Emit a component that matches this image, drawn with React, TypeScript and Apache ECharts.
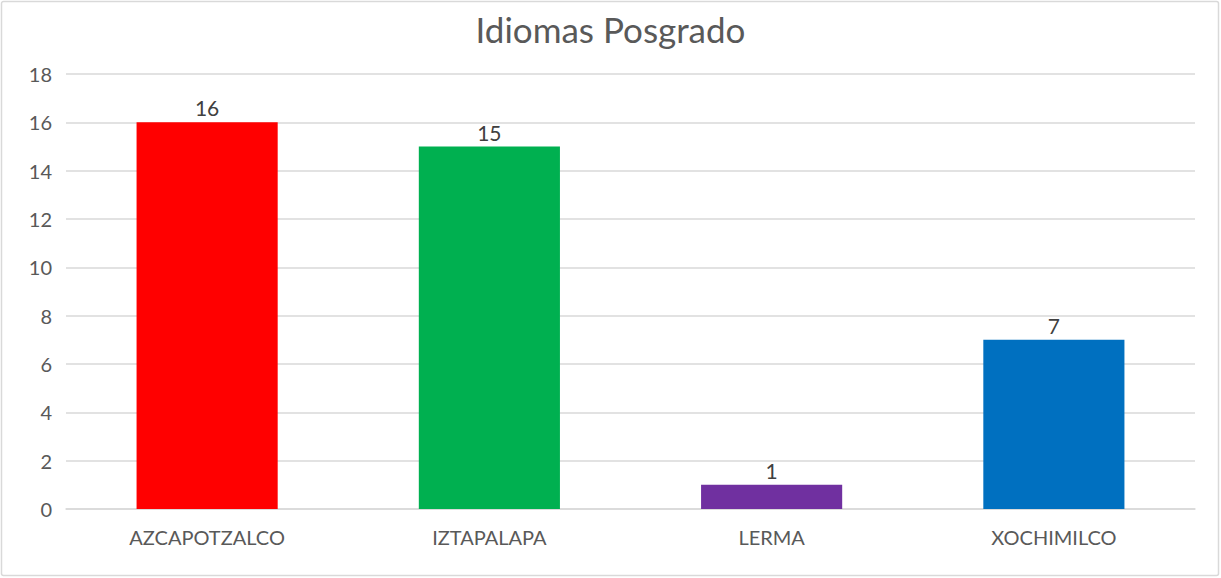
import React, { useEffect, useRef } from "react";
import * as echarts from "echarts";

const categories = ["AZCAPOTZALCO", "IZTAPALAPA", "LERMA", "XOCHIMILCO"];
const values = [16, 15, 1, 7];
const barColors = ["#FF0000", "#00B050", "#7030A0", "#0070C0"];
const title = "Idiomas Posgrado";
const FONT = "Lato, 'Liberation Sans', sans-serif";

export default function App() {
  const ref = useRef<HTMLDivElement>(null);
  useEffect(() => {
    if (!ref.current) return;
    const chart = echarts.init(ref.current, undefined, { renderer: "svg" });
    chart.setOption({
      animation: false,
      backgroundColor: "#fff",
      title: {
        text: title,
        left: "center",
        top: 6,
        textStyle: { fontFamily: FONT, fontSize: 35, fontWeight: "normal", color: "#595959" },
      },
      graphic: [
        {
          type: "rect",
          shape: { x: 1.5, y: 1.5, width: 1217, height: 574, r: 2 },
          style: { fill: "none", stroke: "#d9d9d9", lineWidth: 1.5 },
          silent: true,
        },
      ],
      grid: { left: 66, right: 26, top: 74, bottom: 69, containLabel: false },
      xAxis: {
        type: "category",
        data: categories,
        axisLine: { show: true, lineStyle: { color: "#d9d9d9", width: 1.5 } },
        axisTick: { show: false },
        axisLabel: { color: "#595959", fontFamily: FONT, fontSize: 20, margin: 18 },
      },
      yAxis: {
        type: "value",
        min: 0,
        max: 18,
        interval: 2,
        axisLine: { show: false },
        axisTick: { show: false },
        splitLine: { lineStyle: { color: "#d9d9d9", width: 1.5 } },
        axisLabel: { color: "#595959", fontFamily: FONT, fontSize: 20, margin: 14 },
      },
      series: [
        {
          type: "bar",
          barWidth: "50%",
          data: values.map((v, i) => ({ value: v, itemStyle: { color: barColors[i] } })),
          label: {
            show: true,
            position: "top",
            distance: 4,
            color: "#404040",
            fontFamily: FONT,
            fontSize: 21,
          },
        },
      ],
    });
    return () => chart.dispose();
  }, []);
  return (
    <div
      ref={ref}
      style={{ position: "fixed", left: 0, top: 0, width: 1221, height: 578 }}
    />
  );
}
